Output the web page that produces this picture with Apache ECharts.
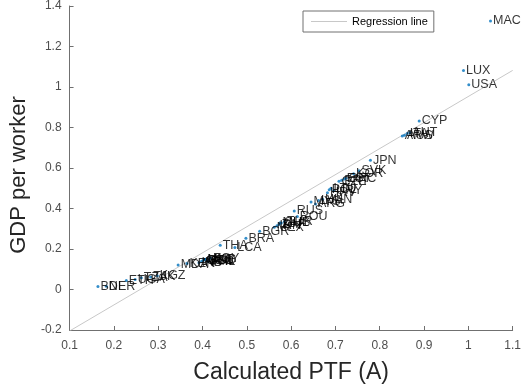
<!DOCTYPE html>
<html>
<head>
<meta charset="utf-8">
<script src="https://cdn.jsdelivr.net/npm/echarts@6/dist/echarts.min.js"></script>
<style>
  html, body { margin: 0; padding: 0; background: #fff; }
  #chart { width: 524px; height: 389px; }
</style>
</head>
<body>
<div id="chart"></div>
<script>
// country codes (many overlap, so some are guesses)
const countries = [
  'BDI', 'NER', 'ETH', 'UGA', 'TZA', 'TJK', 'KGZ',
  'MDA', 'KEN', 'IND', 'ARM', 'GEO', 'UKR', 'BOL', 'PHL', 'EGY', 'MNG',
  'THA', 'LCA', 'BRA', 'BGR',
  'MEX', 'IRN', 'ZAF', 'CHL', 'TUR', 'MUS',
  'RUS', 'ROU', 'MYS', 'ARG', 'LVA', 'HUN',
  'HRV', 'POL', 'LTU', 'URY',
  'CZE', 'PRT', 'EST', 'GRC',
  'KOR', 'SVK',
  'JPN',
  'ARW', 'AUS', 'ITA', 'AUT',
  'CYP', 'LUX', 'USA', 'MAC'
];
// calculated PTF (A)
const ptf = [
  0.164, 0.183, 0.228, 0.248, 0.262, 0.283, 0.298,
  0.345, 0.365, 0.392, 0.398, 0.402, 0.407, 0.410, 0.413, 0.418, 0.405,
  0.440, 0.473, 0.498, 0.529,
  0.562, 0.568, 0.573, 0.578, 0.585, 0.575,
  0.607, 0.614, 0.645, 0.655, 0.662, 0.671,
  0.682, 0.686, 0.690, 0.696,
  0.708, 0.714, 0.720, 0.724,
  0.741, 0.753,
  0.779,
  0.851, 0.856, 0.862, 0.868,
  0.889, 0.989, 1.001, 1.050
];
// GDP per worker
const gdp = [
  0.015, 0.016, 0.045, 0.050, 0.058, 0.062, 0.068,
  0.121, 0.128, 0.132, 0.140, 0.145, 0.150, 0.142, 0.138, 0.155, 0.150,
  0.219, 0.208, 0.253, 0.288,
  0.308, 0.315, 0.322, 0.329, 0.336, 0.330,
  0.388, 0.360, 0.432, 0.422, 0.440, 0.446,
  0.478, 0.492, 0.500, 0.488,
  0.535, 0.540, 0.546, 0.550,
  0.572, 0.587,
  0.638,
  0.758, 0.762, 0.770, 0.775,
  0.832, 1.081, 1.011, 1.326
];
// regression line end points
const regX = [0.1, 1.1];
const regY = [-0.205, 1.082];

const chart = echarts.init(document.getElementById('chart'));

const pts = countries.map((c, i) => ({ name: c, value: [ptf[i], gdp[i]] }));
const regLine = regX.map((x, i) => [x, regY[i]]);

const axisCommon = {
  axisLine: { show: true, onZero: false, lineStyle: { color: '#707070', width: 1 } },
  axisTick: { show: true, inside: true, length: 4, lineStyle: { color: '#707070' } },
  axisLabel: { color: '#4d4d4d', fontSize: 12, fontFamily: 'Liberation Sans' },
  splitLine: { show: false },
  nameLocation: 'middle'
};

chart.setOption({
  animation: false,
  grid: { left: 60, right: 9, top: 6, bottom: 58, containLabel: false },
  legend: {
    left: 303,
    top: 11,
    padding: [5, 6, 5, 8],
    itemWidth: 36,
    itemHeight: 1,
    borderColor: '#707070',
    borderWidth: 1,
    backgroundColor: '#fff',
    textStyle: { color: '#000', fontSize: 11, fontFamily: 'Liberation Sans' },
    data: [{ name: 'Regression line', icon: 'rect', itemStyle: { color: '#c8c8c8' } }]
  },
  xAxis: {
    ...axisCommon,
    type: 'value',
    min: 0.1, max: 1.1, interval: 0.1,
    name: 'Calculated PTF (A)',
    nameGap: 31,
    nameTextStyle: { color: '#262626', fontSize: 23, fontFamily: 'Liberation Sans' },
    axisLabel: { ...axisCommon.axisLabel, margin: 10, formatter: v => +v.toFixed(1) + '' }
  },
  yAxis: {
    ...axisCommon,
    type: 'value',
    min: -0.2, max: 1.4, interval: 0.2,
    name: 'GDP per worker',
    nameGap: 35,
    nameTextStyle: { color: '#262626', fontSize: 22, fontFamily: 'Liberation Sans', padding: [0, 14, 0, 0] },
    axisLabel: { ...axisCommon.axisLabel, margin: 8, formatter: v => +v.toFixed(1) + '' }
  },
  series: [
    {
      name: 'Regression line',
      type: 'line',
      data: regLine,
      symbol: 'none',
      lineStyle: { color: '#c8c8c8', width: 1 },
      z: 1
    },
    {
      name: 'countries',
      type: 'scatter',
      data: pts,
      symbol: 'circle',
      symbolSize: 3,
      itemStyle: { color: '#0072BD' },
      label: {
        show: true,
        position: 'right',
        distance: 1,
        formatter: '{b}',
        color: '#000',
        fontSize: 12.5,
        fontFamily: 'Liberation Sans'
      },
      z: 3
    }
  ]
});
</script>
</body>
</html>
